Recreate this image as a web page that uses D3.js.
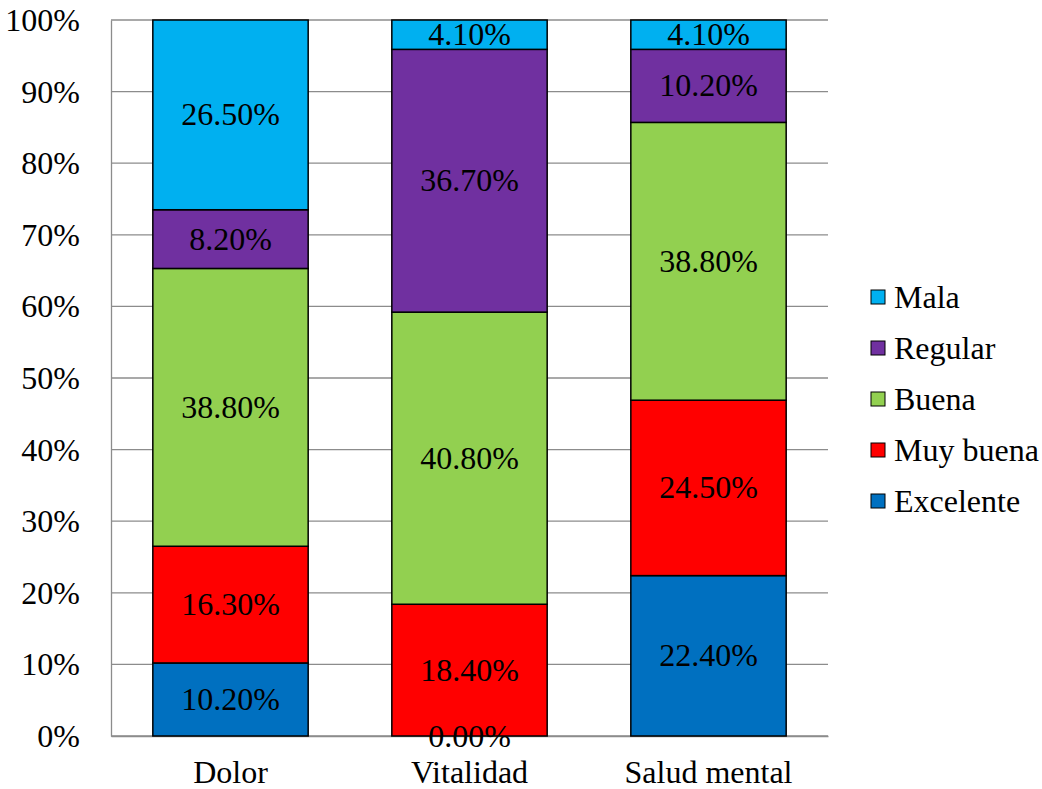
<!DOCTYPE html>
<html>
<head>
<meta charset="utf-8">
<script src="https://cdn.jsdelivr.net/npm/d3@7"></script>
<style>
  body { margin: 0; background: #fff; }
</style>
</head>
<body>
<svg id="chart" width="1042" height="789" font-family="Liberation Serif"></svg>
<script>
// Categories and series (percent of respondents)
const categories = ["Dolor", "Vitalidad", "Salud mental"];
const seriesNames = ["Excelente", "Muy buena", "Buena", "Regular", "Mala"];
const excelente = [10.2, 0.0, 22.4];
const muyBuena  = [16.3, 18.4, 24.5];
const buena     = [38.8, 40.8, 38.8];
const regular   = [8.2, 36.7, 10.2];
const mala      = [26.5, 4.1, 4.1];
const yTicks = [0, 10, 20, 30, 40, 50, 60, 70, 80, 90, 100];
const colors = ["#0070C0", "#FF0000", "#92D050", "#7030A0", "#00B0F0"];

const FONT = "Liberation Serif";
const FS = 32;

const seriesValues = [excelente, muyBuena, buena, regular, mala];
const table = categories.map((c, i) => {
  const row = { category: c };
  seriesNames.forEach((s, k) => row[s] = seriesValues[k][i]);
  return row;
});

const svg = d3.select("#chart");
const m = { left: 111, top: 20, right: 828, bottom: 736 };

const x = d3.scaleBand().domain(categories).range([m.left, m.right]).paddingInner(0.35).paddingOuter(0.175);
const y = d3.scaleLinear().domain([0, 100]).range([m.bottom, m.top]);

// Gridlines
svg.append("g").selectAll("line").data(yTicks).join("line")
  .attr("x1", m.left).attr("x2", m.right)
  .attr("y1", d => y(d)).attr("y2", d => y(d))
  .attr("stroke", "#8c8c8c").attr("stroke-width", 1.3);

// Y axis
const yAxis = svg.append("g").attr("transform", `translate(${m.left},0)`)
  .call(d3.axisLeft(y).tickValues(yTicks).tickFormat(d => d + "%").tickSize(0).tickPadding(31))
  .attr("font-family", FONT).attr("font-size", FS);
yAxis.select(".domain").attr("stroke", "#8c8c8c").attr("stroke-width", 1.3);
yAxis.selectAll("text").attr("fill", "#000").attr("dy", "0.33em");

// X axis
const xAxis = svg.append("g").attr("transform", `translate(0,${m.bottom})`)
  .call(d3.axisBottom(x).tickSize(0).tickPadding(0))
  .attr("font-family", FONT).attr("font-size", FS);
xAxis.select(".domain").attr("stroke", "#8c8c8c").attr("stroke-width", 1.3);
xAxis.selectAll("text").attr("fill", "#000").attr("y", 47).attr("dy", 0);

// Stacked bars
const stack = d3.stack().keys(seriesNames)(table);
const layers = svg.append("g").selectAll("g").data(stack).join("g")
  .attr("fill", (d, i) => colors[i]);
layers.selectAll("rect").data(d => d).join("rect")
  .attr("x", d => x(d.data.category))
  .attr("width", x.bandwidth())
  .attr("y", d => y(d[1]))
  .attr("height", d => y(d[0]) - y(d[1]))
  .attr("stroke", "#000").attr("stroke-width", 1.5);

// Value labels
const labels = svg.append("g").attr("font-family", FONT).attr("font-size", FS);
stack.forEach(layer => {
  layer.forEach(d => {
    labels.append("text")
      .attr("x", x(d.data.category) + x.bandwidth() / 2)
      .attr("y", y((d[0] + d[1]) / 2))
      .attr("dy", "0.33em")
      .attr("text-anchor", "middle")
      .attr("fill", "#000")
      .text(d.data[layer.key].toFixed(2) + "%");
  });
});

// Legend (top entry is the last series)
const legend = svg.append("g").attr("font-family", FONT).attr("font-size", FS);
const legendOrder = seriesNames.slice().reverse();
legendOrder.forEach((name, i) => {
  const yy = 297 + i * 51;
  legend.append("rect")
    .attr("x", 871).attr("y", yy - 7).attr("width", 14).attr("height", 14)
    .attr("fill", colors[seriesNames.indexOf(name)])
    .attr("stroke", "#000").attr("stroke-width", 1);
  legend.append("text")
    .attr("x", 894).attr("y", yy).attr("dy", "0.33em")
    .attr("fill", "#000")
    .text(name);
});
</script>
</body>
</html>
